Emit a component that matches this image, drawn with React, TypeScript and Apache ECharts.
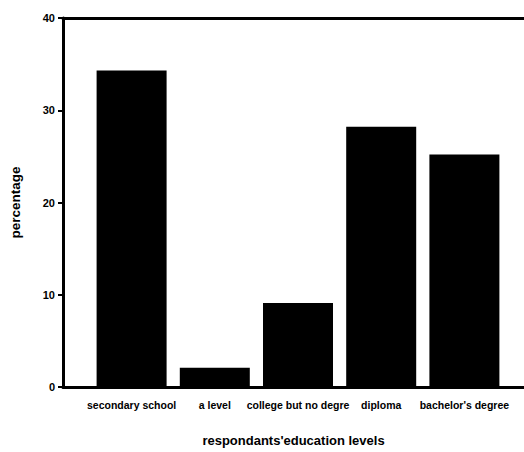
import React, { useEffect, useRef } from "react";
import * as echarts from "echarts";

const categories = [
  "secondary school",
  "a level",
  "college but no degre",
  "diploma",
  "bachelor's degree",
];
const percentages = [34.3, 2.1, 9.1, 28.2, 25.2];
const yTicks = [0, 10, 20, 30, 40];

export default function App() {
  const ref = useRef<HTMLDivElement>(null);
  useEffect(() => {
    document.body.style.margin = "0";
    if (!ref.current) return;
    const chart = echarts.init(ref.current, null, { renderer: "svg" });
    const font = "Liberation Sans, Arial, sans-serif";
    chart.setOption({
      animation: false,
      backgroundColor: "#ffffff",
      grid: [
        { left: 63, right: 0, top: 18, bottom: 65, outerBoundsMode: "none", containLabel: false },
        { left: 90, right: 18, top: 18, bottom: 65, outerBoundsMode: "none", containLabel: false },
      ],
      xAxis: [
        {
          gridIndex: 0,
          type: "value",
          min: 0,
          max: 1,
          position: "bottom",
          axisLine: { show: true, lineStyle: { color: "#000", width: 3 } },
          axisTick: { show: false },
          axisLabel: { show: false },
          splitLine: { show: false },
          name: "respondants'education levels",
          nameLocation: "middle",
          nameGap: 47,
          nameTextStyle: { color: "#000", fontFamily: font, fontWeight: "bold", fontSize: 13 },
        },
        {
          gridIndex: 0,
          type: "value",
          min: 0,
          max: 1,
          position: "top",
          axisLine: { show: true, onZero: false, lineStyle: { color: "#000", width: 3 } },
          axisTick: { show: false },
          axisLabel: { show: false },
          splitLine: { show: false },
        },
        {
          gridIndex: 1,
          type: "category",
          data: categories,
          axisLine: { show: false },
          axisTick: { show: false },
          axisLabel: {
            interval: 0,
            margin: 12,
            color: "#000",
            fontFamily: font,
            fontWeight: "bold",
            fontSize: 10.5,
          },
        },
      ],
      yAxis: [
        {
          gridIndex: 0,
          type: "value",
          min: 0,
          max: 40,
          interval: 10,
          axisLine: { show: true, lineStyle: { color: "#000", width: 3 } },
          axisTick: { show: true, length: 5, lineStyle: { color: "#000", width: 2 } },
          axisLabel: {
            color: "#000",
            fontFamily: font,
            fontWeight: "bold",
            fontSize: 11,
            margin: 8,
            formatter: (v: number) => (yTicks.includes(v) ? String(v) : ""),
          },
          splitLine: { show: false },
          name: "percentage",
          nameLocation: "middle",
          nameGap: 41,
          nameRotate: 90,
          nameTextStyle: { color: "#000", fontFamily: font, fontWeight: "bold", fontSize: 13.5 },
        },
        {
          gridIndex: 1,
          type: "value",
          min: 0,
          max: 40,
          show: false,
        },
      ],
      series: [
        {
          type: "bar",
          xAxisIndex: 2,
          yAxisIndex: 1,
          data: percentages,
          barWidth: 70,
          itemStyle: { color: "#000" },
        },
      ],
    });
    return () => chart.dispose();
  }, []);
  return <div ref={ref} style={{ width: 524, height: 452 }} />;
}
